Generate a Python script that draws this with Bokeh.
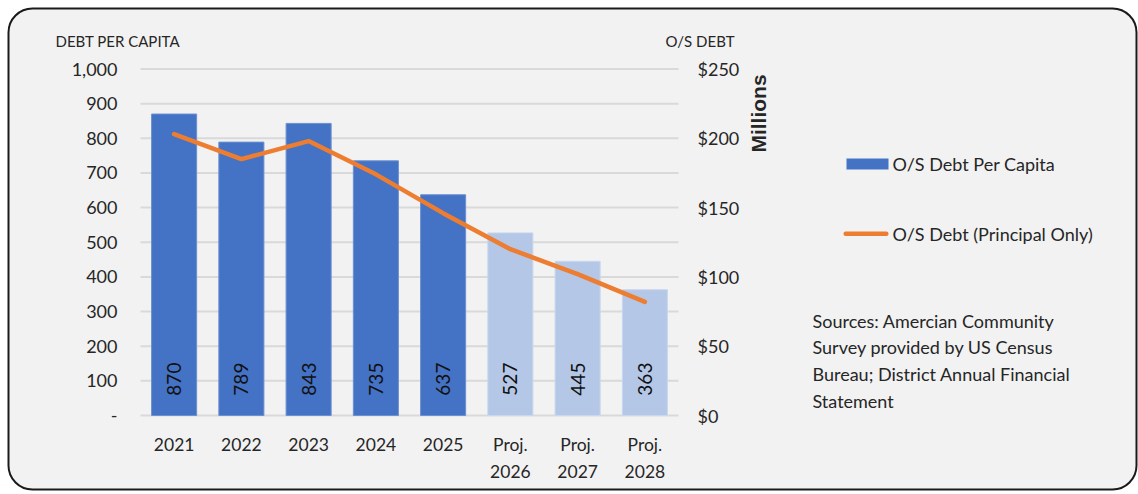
from math import pi

from bokeh.embed import file_html
from bokeh.resources import INLINE
from bokeh.plotting import figure
from bokeh.models import ColumnDataSource, Range1d, Label, BoxAnnotation
from bokeh.core.properties import value

# ---- data -------------------------------------------------------------
years = ["2021", "2022", "2023", "2024", "2025", "Proj.\n2026", "Proj.\n2027", "Proj.\n2028"]
debt_per_capita = [870, 789, 843, 735, 637, 527, 445, 363]
os_debt_millions = [203, 185, 198, 174, 146, 120, 102, 82]
is_projection = [False, False, False, False, False, True, True, True]

left_ticks = [0, 100, 200, 300, 400, 500, 600, 700, 800, 900, 1000]
right_ticks = [0, 50, 100, 150, 200, 250]

sources_lines = ["Sources: Amercian Community",
                 "Survey provided by US Census",
                 "Bureau; District Annual Financial",
                 "Statement"]

# ---- style ------------------------------------------------------------
FONT = "Lato"
TEXT = "#262626"
ACTUAL = "#4472C4"
PROJ = "#B4C7E7"
ORANGE = "#ED7D31"
GRID = "#D9D9D9"

W, H = 1138, 494
# plot area in page pixels
PLOT_L, PLOT_R, PLOT_T, PLOT_B = 140, 678, 68.5, 415
LEFT_MAX, RIGHT_MAX = 1000, 250

n = len(years)
px_per_cat = (PLOT_R - PLOT_L) / n
px_per_unit = (PLOT_B - PLOT_T) / LEFT_MAX


def sx(px):
    # page x pixel -> category coordinate (category i is centred on i + 0.5)
    return (px - PLOT_L) / px_per_cat


def sy(py):
    # page y pixel -> left-axis value
    return (PLOT_B - py) / px_per_unit


# the whole canvas is the frame, so the axes are drawn by hand
p = figure(width=W, height=H, output_backend="svg", toolbar_location=None,
           x_range=Range1d(sx(0), sx(W)), y_range=Range1d(sy(H), sy(0)),
           x_axis_location=None, y_axis_location=None,
           min_border=0, min_border_left=0, min_border_right=0,
           min_border_top=0, min_border_bottom=0)
scale = RIGHT_MAX / LEFT_MAX
p.extra_y_ranges = {"debt": Range1d(sy(H) * scale, sy(0) * scale)}
p.background_fill_color = "white"
p.border_fill_color = "white"
p.outline_line_color = None
p.xgrid.visible = False
p.ygrid.visible = False

# rounded card
p.add_layout(BoxAnnotation(left=sx(8), right=sx(1136), top=sy(8), bottom=sy(489),
                           fill_color="#F2F2F2", fill_alpha=1.0,
                           line_color="#1a1a1a", line_alpha=1.0, line_width=2,
                           border_radius=24, level="underlay"))

xc = [i + 0.5 for i in range(n)]

# horizontal gridlines
p.segment(x0=[0] * len(left_ticks), x1=[n] * len(left_ticks), y0=left_ticks,
          y1=left_ticks, line_color=GRID, line_width=2)

colors = [PROJ if q else ACTUAL for q in is_projection]
edges = ["#C9D7EF" if q else "#6C90D0" for q in is_projection]
src = ColumnDataSource(dict(x=xc, dpc=debt_per_capita, debt=os_debt_millions,
                            color=colors, edge=edges,
                            lbl=[str(v) for v in debt_per_capita]))

# bars
p.vbar(x="x", top="dpc", width=0.67, source=src, fill_color="color",
       line_color="edge", line_width=1)

# values inside bars
p.text(x="x", y=105, text="lbl", source=src, angle=pi / 2,
       text_align="center", text_baseline="middle", text_font=value(FONT),
       text_font_size="19px", text_color="#111111")

# outstanding debt line
p.line(x="x", y="debt", source=src, y_range_name="debt", line_color=ORANGE,
       line_width=4.5, line_cap="round", line_join="round")

# left tick labels
left_labels = ["-" if v == 0 else f"{v:,}" for v in left_ticks]
p.text(x=[sx(117)] * len(left_ticks), y=left_ticks, text=left_labels,
       text_align="right", text_baseline="middle", text_font=value(FONT),
       text_font_size="18px", text_color=TEXT)

# right tick labels
right_labels = [f"${v}" for v in right_ticks]
p.text(x=[sx(697)] * len(right_ticks), y=right_ticks, text=right_labels,
       y_range_name="debt", text_align="left", text_baseline="middle",
       text_font=value(FONT), text_font_size="18px", text_color=TEXT)

# category labels (one or two lines)
first = [y.split("\n")[0] for y in years]
second = [y.split("\n")[1] if "\n" in y else "" for y in years]
p.text(x=xc, y=[sy(444)] * n, text=first, text_align="center",
       text_baseline="middle", text_font=value(FONT), text_font_size="17.5px",
       text_color=TEXT)
p.text(x=xc, y=[sy(471)] * n, text=second, text_align="center",
       text_baseline="middle", text_font=value(FONT), text_font_size="17.5px",
       text_color=TEXT)


def label(text, x, y, size="15px", align="left", angle=0.0, font=FONT,
          style="normal"):
    p.add_layout(Label(x=sx(x), y=sy(y), text=text, text_font=font,
                       text_font_size=size, text_color=TEXT, text_align=align,
                       text_baseline="middle", angle=angle,
                       text_font_style=style))


label("DEBT PER CAPITA", 55, 40)
label("O/S DEBT", 665, 40)
label("Millions", 758, 113, size="21px", align="center", angle=pi / 2,
      font="Liberation Sans", style="bold")

# legend
p.add_layout(BoxAnnotation(left=sx(846), right=sx(888), top=sy(158), bottom=sy(169),
                           fill_color=ACTUAL, fill_alpha=1.0, line_color=None))
p.add_layout(BoxAnnotation(left=sx(843), right=sx(888), top=sy(231), bottom=sy(235.5),
                           fill_color=ORANGE, fill_alpha=1.0, line_color=None,
                           border_radius=2))
label("O/S Debt Per Capita", 892, 163, size="18px")
label("O/S Debt (Principal Only)", 892, 233, size="18px")

# sources note
for i, line in enumerate(sources_lines):
    label(line, 812, 320 + i * 26.7, size="18px")

open("out.html", "w").write(file_html(p, INLINE))
